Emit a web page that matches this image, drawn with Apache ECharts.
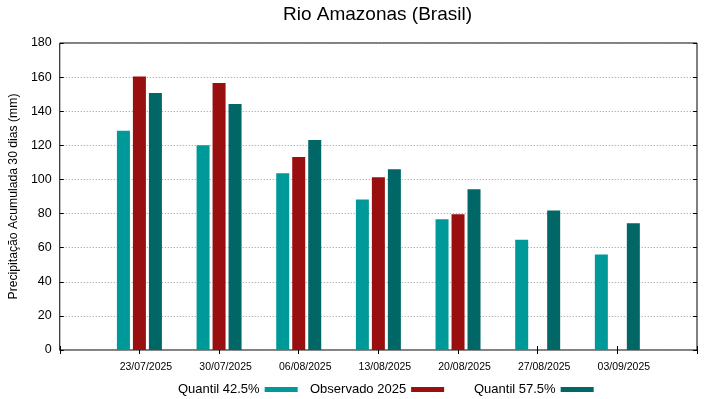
<!DOCTYPE html>
<html>
<head>
<meta charset="utf-8">
<script src="https://cdn.jsdelivr.net/npm/echarts@6/dist/echarts.min.js"></script>
<style>
html,body{margin:0;padding:0;background:#fff;}
#chart{width:719px;height:399px;}
</style>
</head>
<body>
<div id="chart"></div>
<script>
const categories = ['23/07/2025', '30/07/2025', '06/08/2025', '13/08/2025', '20/08/2025', '27/08/2025', '03/09/2025'];
const quantil425 = [128.5, 120.1, 103.7, 88.2, 76.7, 64.6, 56.0];
const observado2025 = [160.4, 156.5, 113.1, 101.3, 79.6, null, null];
const quantil575 = [150.7, 144.2, 123.1, 106.0, 94.3, 81.8, 74.3];
const yTicks = [0, 20, 40, 60, 80, 100, 120, 140, 160, 180];

const seriesNames = ['Quantil 42.5%', 'Observado 2025', 'Quantil 57.5%'];
const colors = ['#009999', '#990f0f', '#006666'];

// pad one empty slot each side so the groups sit one band in from the frame
const cats = [''].concat(categories, ['']);
const pad = a => [null].concat(a, [null]);

const FONT = 'Liberation Sans, Arial, sans-serif';
const chart = echarts.init(document.getElementById('chart'));

function legendAt(name, left) {
  return {
    data: [name], left: left, top: 383, align: 'right', orient: 'horizontal',
    itemWidth: 33, itemHeight: 5, padding: 0, icon: 'rect',
    textStyle: { fontFamily: FONT, fontSize: 13, color: '#000' }
  };
}

const option = {
  animation: false,
  backgroundColor: '#fff',
  title: {
    text: 'Rio Amazonas (Brasil)', left: 283, top: 5, padding: 0,
    textStyle: { fontFamily: FONT, fontSize: 19, fontWeight: 'normal', color: '#000' }
  },
  legend: [legendAt(seriesNames[0], 178), legendAt(seriesNames[1], 310), legendAt(seriesNames[2], 474)],
  grid: { left: 58, right: 22, top: 43, bottom: 49, show: true, borderColor: '#000', borderWidth: 1, containLabel: false },
  xAxis: [{
    type: 'category', data: cats, boundaryGap: false, position: 'bottom',
    axisLine: { show: false },
    axisTick: { show: true, inside: true, length: 4, lineStyle: { color: '#000' } },
    axisLabel: { interval: 0, margin: 12, fontFamily: FONT, fontSize: 10.5, color: '#000', padding: [0, 0, 0, 13] },
    splitLine: { show: false }
  }, {
    type: 'category', data: cats, boundaryGap: false, position: 'top',
    axisLine: { show: false },
    axisTick: { show: true, inside: true, length: 4, lineStyle: { color: '#000' } },
    axisLabel: { show: false }, splitLine: { show: false }
  }],
  yAxis: [{
    type: 'value', min: yTicks[0], max: yTicks[yTicks.length - 1], interval: 20, position: 'left',
    name: 'Precipitação Acumulada 30 dias (mm)', nameLocation: 'middle', nameGap: 34,
    nameTextStyle: { fontFamily: FONT, fontSize: 12.2, color: '#000' },
    axisLine: { show: false },
    axisTick: { show: true, inside: true, length: 4, lineStyle: { color: '#000' } },
    axisLabel: { margin: 8, fontFamily: FONT, fontSize: 12.5, color: '#000' },
    splitLine: { show: true, lineStyle: { color: '#999', type: [1, 2], width: 1 } }
  }, {
    type: 'value', min: yTicks[0], max: yTicks[yTicks.length - 1], interval: 20, position: 'right',
    axisLine: { show: false },
    axisTick: { show: true, inside: true, length: 4, lineStyle: { color: '#000' } },
    axisLabel: { show: false }, splitLine: { show: false }
  }],
  series: [
    { name: seriesNames[0], type: 'bar', data: pad(quantil425), barWidth: 13, barGap: '23%', itemStyle: { color: colors[0] } },
    { name: seriesNames[1], type: 'bar', data: pad(observado2025), barWidth: 13, barGap: '23%', itemStyle: { color: colors[1] } },
    { name: seriesNames[2], type: 'bar', data: pad(quantil575), barWidth: 13, barGap: '23%', itemStyle: { color: colors[2] } }
  ]
};
chart.setOption(option);
</script>
</body>
</html>
